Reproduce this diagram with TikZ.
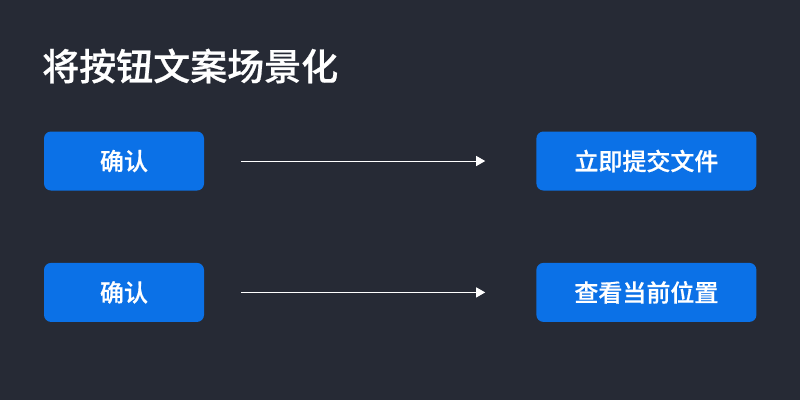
\documentclass[tikz,border=0pt]{standalone}
\usepackage{fontspec}
\usepackage{xcolor}
\usetikzlibrary{arrows.meta,positioning}
\newfontfamily\cjk[FakeBold=0.6]{Noto Sans CJK SC Medium}
\definecolor{bgdark}{HTML}{262A35}
\definecolor{btnblue}{HTML}{0B71E7}

\begin{document}
\begin{tikzpicture}[x=1pt,y=-1pt,
  btn/.style={fill=btnblue,rounded corners=7pt,minimum width=160pt,minimum height=59pt,inner sep=0pt,text=white,font=\cjk\fontsize{24}{28}\selectfont},
  wide/.style={minimum width=220pt},
  arrow/.style={-{Triangle[length=9pt,width=10pt]},white,line width=1pt}
]
\fill[bgdark] (0,0) rectangle (800,400);
\node[anchor=west,inner sep=0pt,text=white,font=\cjk\fontsize{37}{40}\selectfont] (title) at (42,66) {将按钮文案场景化};

\node[btn] (ok1) at (124,161) {确认};
\node[btn,wide,right=332pt of ok1] (submit) {立即提交文件};
\node[btn,below=72pt of ok1] (ok2) {确认};
\node[btn,wide,below=72pt of submit] (locate) {查看当前位置};

\draw[arrow,shorten <=37pt,shorten >=51pt] (ok1) -- (submit);
\draw[arrow,shorten <=37pt,shorten >=51pt] (ok2) -- (locate);
\end{tikzpicture}
\end{document}
